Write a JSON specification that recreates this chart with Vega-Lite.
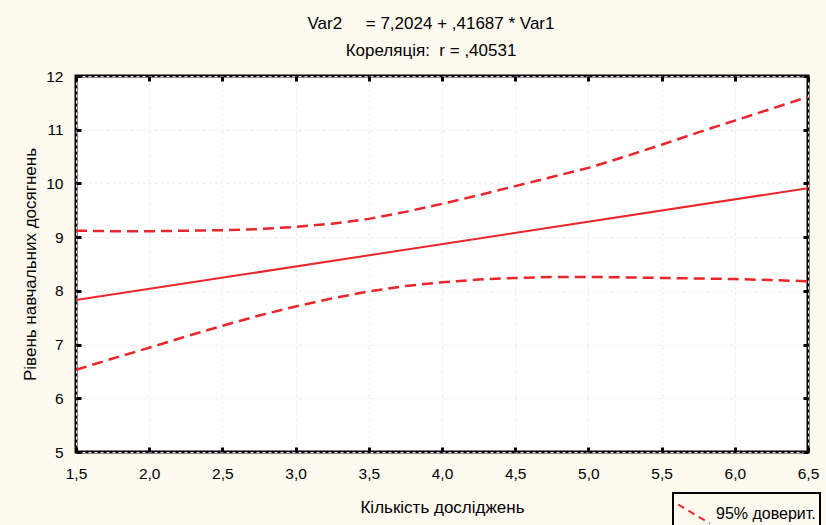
{
  "$schema": "https://vega.github.io/schema/vega-lite/v6.json",
  "width": 732,
  "height": 376,
  "autosize": {"type": "none"},
  "padding": {"left": 76, "top": 76, "right": 18, "bottom": 73},
  "background": "#FFFAF0",
  "title": {
    "text": ["Var2\u00a0\u00a0\u00a0\u00a0\u00a0= 7,2024 + ,41687 * Var1", "Кореляція:\u00a0 r = ,40531"],
    "lineHeight": 27,
    "fontSize": 17,
    "fontWeight": "normal",
    "font": "Liberation Sans",
    "color": "black",
    "anchor": "middle",
    "dx": -11,
    "offset": 9
  },
  "config": {
    "view": {"stroke": "black", "strokeWidth": 3, "fill": "white"},
    "axis": {
      "labelFont": "Liberation Sans",
      "labelFontSize": 15.5,
      "labelColor": "black",
      "titleFont": "Liberation Sans",
      "titleFontSize": 17,
      "titleFontWeight": "normal",
      "titleColor": "black",
      "domain": false,
      "tickColor": "black",
      "tickWidth": 3,
      "tickSize": -5,
      "gridColor": "#ececec",
      "gridDash": [3, 3],
      "gridWidth": 1
    },
    "legend": {
      "strokeColor": "black",
      "strokeWidth": 2,
      "labelFont": "Liberation Sans",
      "labelFontSize": 16,
      "labelColor": "black",
      "padding": 4
    }
  },
  "data": {
    "values": [
      {"x": 1.5, "y": 7.828, "kind": "fit", "series": "fit"},
      {"x": 6.5, "y": 9.912, "kind": "fit", "series": "fit"},
      {"x": 1.5, "y": 9.12, "kind": "upper", "series": "95% доверит."},
      {"x": 1.75, "y": 9.11, "kind": "upper", "series": "95% доверит."},
      {"x": 2.0, "y": 9.11, "kind": "upper", "series": "95% доверит."},
      {"x": 2.25, "y": 9.12, "kind": "upper", "series": "95% доверит."},
      {"x": 2.5, "y": 9.13, "kind": "upper", "series": "95% доверит."},
      {"x": 2.75, "y": 9.15, "kind": "upper", "series": "95% доверит."},
      {"x": 3.0, "y": 9.19, "kind": "upper", "series": "95% доверит."},
      {"x": 3.25, "y": 9.25, "kind": "upper", "series": "95% доверит."},
      {"x": 3.5, "y": 9.34, "kind": "upper", "series": "95% доверит."},
      {"x": 3.75, "y": 9.47, "kind": "upper", "series": "95% доверит."},
      {"x": 4.0, "y": 9.62, "kind": "upper", "series": "95% доверит."},
      {"x": 4.25, "y": 9.78, "kind": "upper", "series": "95% доверит."},
      {"x": 4.5, "y": 9.95, "kind": "upper", "series": "95% доверит."},
      {"x": 4.75, "y": 10.12, "kind": "upper", "series": "95% доверит."},
      {"x": 5.0, "y": 10.29, "kind": "upper", "series": "95% доверит."},
      {"x": 5.25, "y": 10.5, "kind": "upper", "series": "95% доверит."},
      {"x": 5.5, "y": 10.72, "kind": "upper", "series": "95% доверит."},
      {"x": 5.75, "y": 10.95, "kind": "upper", "series": "95% доверит."},
      {"x": 6.0, "y": 11.17, "kind": "upper", "series": "95% доверит."},
      {"x": 6.25, "y": 11.39, "kind": "upper", "series": "95% доверит."},
      {"x": 6.5, "y": 11.61, "kind": "upper", "series": "95% доверит."},
      {"x": 1.5, "y": 6.53, "kind": "lower", "series": "95% доверит."},
      {"x": 1.75, "y": 6.74, "kind": "lower", "series": "95% доверит."},
      {"x": 2.0, "y": 6.94, "kind": "lower", "series": "95% доверит."},
      {"x": 2.25, "y": 7.15, "kind": "lower", "series": "95% доверит."},
      {"x": 2.5, "y": 7.35, "kind": "lower", "series": "95% доверит."},
      {"x": 2.75, "y": 7.54, "kind": "lower", "series": "95% доверит."},
      {"x": 3.0, "y": 7.71, "kind": "lower", "series": "95% доверит."},
      {"x": 3.25, "y": 7.86, "kind": "lower", "series": "95% доверит."},
      {"x": 3.5, "y": 7.99, "kind": "lower", "series": "95% доверит."},
      {"x": 3.75, "y": 8.09, "kind": "lower", "series": "95% доверит."},
      {"x": 4.0, "y": 8.16, "kind": "lower", "series": "95% доверит."},
      {"x": 4.25, "y": 8.21, "kind": "lower", "series": "95% доверит."},
      {"x": 4.5, "y": 8.24, "kind": "lower", "series": "95% доверит."},
      {"x": 4.75, "y": 8.26, "kind": "lower", "series": "95% доверит."},
      {"x": 5.0, "y": 8.26, "kind": "lower", "series": "95% доверит."},
      {"x": 5.25, "y": 8.25, "kind": "lower", "series": "95% доверит."},
      {"x": 5.5, "y": 8.24, "kind": "lower", "series": "95% доверит."},
      {"x": 5.75, "y": 8.23, "kind": "lower", "series": "95% доверит."},
      {"x": 6.0, "y": 8.22, "kind": "lower", "series": "95% доверит."},
      {"x": 6.25, "y": 8.2, "kind": "lower", "series": "95% доверит."},
      {"x": 6.5, "y": 8.18, "kind": "lower", "series": "95% доверит."}
    ]
  },
  "layer": [
    {
      "transform": [{"filter": "datum.kind === 'fit'"}],
      "mark": {"type": "line", "color": "#E8262C", "strokeWidth": 2},
      "encoding": {
        "x": {
          "field": "x", "type": "quantitative",
          "scale": {"domain": [1.5, 6.5], "nice": false, "zero": false},
          "axis": {
            "orient": "bottom",
            "title": "Кількість досліджень",
            "values": [1.5, 2, 2.5, 3, 3.5, 4, 4.5, 5, 5.5, 6, 6.5],
            "labelExpr": "replace(format(datum.value, '.1f'), '.', ',')",
            "labelPadding": 19,
            "labelFlush": false,
            "labelOverlap": false,
            "titleX": 366,
            "titleY": 55,
            "titleBaseline": "middle",
            "titleAnchor": "middle"
          }
        },
        "y": {
          "field": "y", "type": "quantitative",
          "scale": {"domain": [5, 12], "nice": false, "zero": false},
          "axis": {
            "orient": "left",
            "title": "Рівень навчальних досягнень",
            "values": [5, 6, 7, 8, 9, 10, 11, 12],
            "labelPadding": 18,
            "labelFlush": false,
            "labelOverlap": false,
            "titleX": -46,
            "titleY": 188,
            "titleBaseline": "middle",
            "titleAngle": -90,
            "titleAnchor": "middle"
          }
        }
      }
    },
    {
      "transform": [{"filter": "datum.kind !== 'fit'"}],
      "mark": {"type": "line", "strokeWidth": 2.5, "strokeDash": [11, 6]},
      "encoding": {
        "x": {
          "field": "x", "type": "quantitative",
          "axis": {"orient": "top", "labels": false, "grid": false, "title": null,
                   "values": [1.5, 2, 2.5, 3, 3.5, 4, 4.5, 5, 5.5, 6, 6.5]}
        },
        "y": {
          "field": "y", "type": "quantitative",
          "axis": {"orient": "right", "labels": false, "grid": false, "title": null,
                   "values": [5, 6, 7, 8, 9, 10, 11, 12]}
        },
        "detail": {"field": "kind"},
        "color": {
          "field": "series", "type": "nominal",
          "scale": {"range": ["#E8262C"]},
          "legend": {
            "orient": "none",
            "legendX": 597,
            "legendY": 417,
            "title": null,
            "symbolType": "M-1,-0.6L1,0.6",
            "symbolSize": 1000,
            "symbolStrokeWidth": 2,
            "symbolDash": [7, 5],
            "symbolFillColor": "transparent",
            "labelOffset": 5
          }
        }
      }
    }
  ]
}
